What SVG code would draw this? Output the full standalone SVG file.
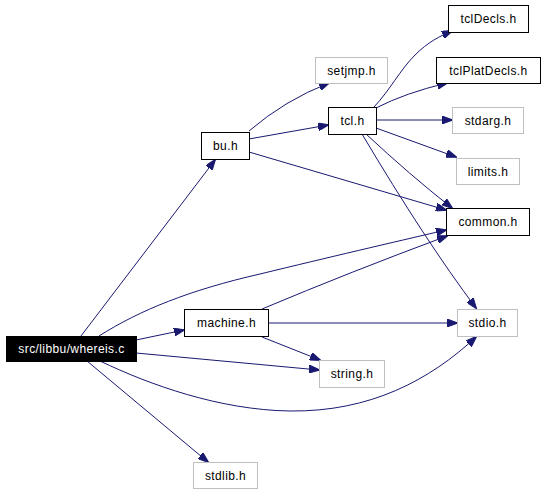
<svg xmlns="http://www.w3.org/2000/svg" width="544" height="493" viewBox="0 0 544 493">
<style>
.n{fill:#fff;stroke:#000;stroke-width:1}
.g{fill:#fff;stroke:#bfbfbf;stroke-width:1}
.m{fill:#000;stroke:#000}
text{font-family:"Liberation Sans",Arial,sans-serif;font-size:12px;letter-spacing:0.4px;text-anchor:middle;fill:#000}
.w{fill:#fff}
.e{fill:none;stroke:#191970;stroke-width:1;marker-end:url(#a)}
</style>
<defs>
<marker id="a" markerWidth="11" markerHeight="8" refX="10" refY="4" orient="auto" markerUnits="userSpaceOnUse">
<path d="M0,0 L11,4 L0,8 z" fill="#191970" stroke="#191970" stroke-width="1"/>
</marker>
</defs>
<rect width="544" height="493" fill="#fff"/>
<g id="edges">
<path class="e" d="M81,336 L215,160"/>
<path class="e" d="M99,336 C140,310 190,290 260,274 C330,257 390,243 446,230"/>
<path class="e" d="M136,340 L184,330"/>
<path class="e" d="M136,353 L319,370"/>
<path class="e" d="M100,361 C150,385 220,410 290,411 C370,412 430,380 476,337"/>
<path class="e" d="M87,361 L208,462"/>
<path class="e" d="M249,131 Q285,100 329,83"/>
<path class="e" d="M249,139 L328,125"/>
<path class="e" d="M249,152 L446,210"/>
<path class="e" d="M374,107 C390,90 400,70 415,55 C428,42 440,36 452,31"/>
<path class="e" d="M376,108 Q405,93 447,83"/>
<path class="e" d="M376,120 L452,120"/>
<path class="e" d="M376,128 L456,157"/>
<path class="e" d="M366,134 Q410,175 452,208"/>
<path class="e" d="M362,134 Q425,240 476,308"/>
<path class="e" d="M262,309 Q350,272 447,236"/>
<path class="e" d="M268,323 L457,323"/>
<path class="e" d="M262,337 L320,360"/>
</g>
<g id="main"><rect class="m" x="6.5" y="336.5" width="130" height="25"/><text class="w" x="71.5" y="353">src/libbu/whereis.c</text></g>
<g id="bu"><rect class="n" x="201.5" y="132.5" width="48" height="27"/><text x="225.5" y="150">bu.h</text></g>
<g id="tcl"><rect class="n" x="328.5" y="107.5" width="48" height="27"/><text x="352.5" y="125">tcl.h</text></g>
<g id="tclDecls"><rect class="n" x="448.5" y="5.5" width="80" height="27"/><text x="488.5" y="23">tclDecls.h</text></g>
<g id="setjmp"><rect class="g" x="315.5" y="57.5" width="72" height="26"/><text x="351.5" y="75">setjmp.h</text></g>
<g id="tclPlatDecls"><rect class="n" x="436.5" y="57.5" width="104" height="26"/><text x="488.5" y="75">tclPlatDecls.h</text></g>
<g id="stdarg"><rect class="g" x="452.5" y="107.5" width="71" height="26"/><text x="488" y="125">stdarg.h</text></g>
<g id="limits"><rect class="g" x="456.5" y="158.5" width="63" height="26"/><text x="488" y="176">limits.h</text></g>
<g id="common"><rect class="n" x="446.5" y="208.5" width="83" height="27"/><text x="488" y="226">common.h</text></g>
<g id="machine"><rect class="n" x="184.5" y="309.5" width="84" height="27"/><text x="226.5" y="327">machine.h</text></g>
<g id="stdio"><rect class="g" x="457.5" y="309.5" width="60" height="27"/><text x="487.5" y="327">stdio.h</text></g>
<g id="string"><rect class="g" x="319.5" y="360.5" width="65" height="27"/><text x="352" y="378">string.h</text></g>
<g id="stdlib"><rect class="g" x="193.5" y="462.5" width="64" height="26"/><text x="225.5" y="480">stdlib.h</text></g>
</svg>
